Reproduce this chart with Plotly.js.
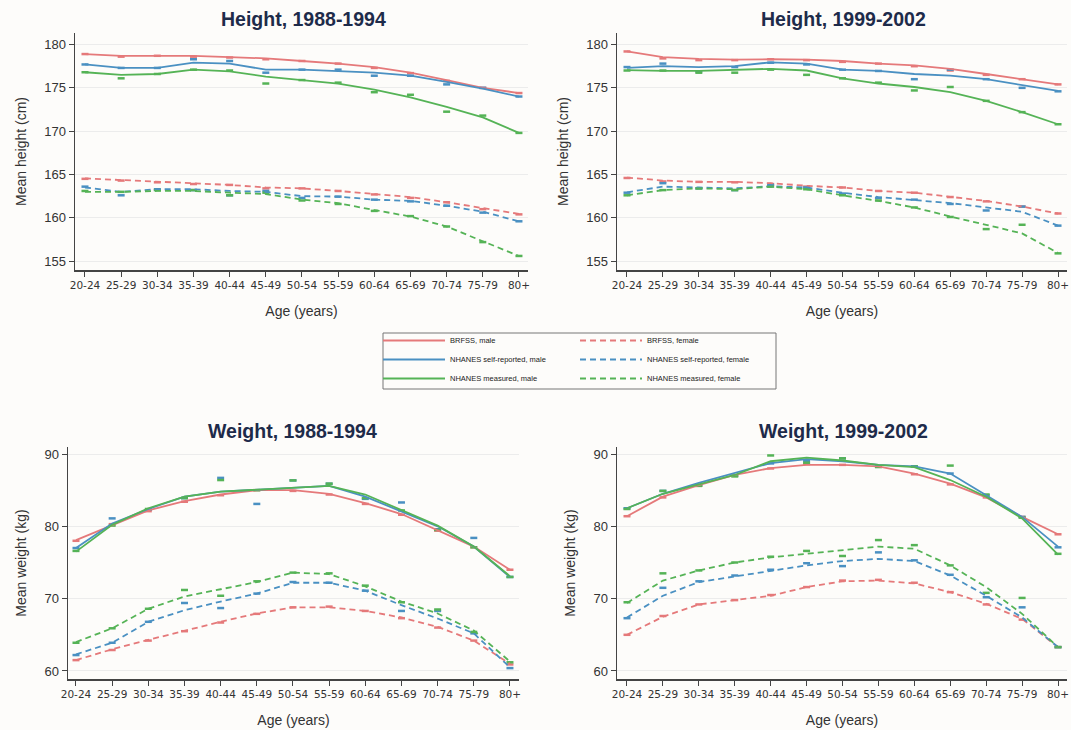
<!DOCTYPE html>
<html>
<head>
<meta charset="utf-8">
<script src="https://cdn.plot.ly/plotly-3.0.1.min.js"></script>
<style>
html,body{margin:0;padding:0;background:#fdfcfa;}
#chart{width:1071px;height:730px;}
</style>
</head>
<body>
<div id="chart"></div>
<script>
// ---------- categories ----------
const ageGroups = ["20-24","25-29","30-34","35-39","40-44","45-49","50-54","55-59","60-64","65-69","70-74","75-79","80+"];

const seriesNames = ["BRFSS, male","NHANES self-reported, male","NHANES measured, male",
                     "BRFSS, female","NHANES self-reported, female","NHANES measured, female"];

// ---------- Height 1988-1994 (smoothed lines) ----------
const h88_brfss_m = [178.9,178.7,178.7,178.7,178.55,178.4,178.1,177.8,177.4,176.75,175.9,175.0,174.4];
const h88_srep_m  = [177.7,177.3,177.3,177.9,177.8,177.1,177.1,176.9,176.75,176.4,175.7,174.9,174.0];
const h88_meas_m  = [176.8,176.5,176.6,177.1,176.9,176.3,175.9,175.5,174.8,173.9,172.8,171.6,169.8];
const h88_brfss_f = [164.55,164.35,164.15,164.0,163.8,163.5,163.4,163.1,162.75,162.4,161.8,161.1,160.45];
const h88_srep_f  = [163.5,163.0,163.3,163.3,163.1,163.0,162.5,162.45,162.1,161.95,161.4,160.7,159.6];
const h88_meas_f  = [163.0,163.0,163.1,163.1,162.9,162.75,162.1,161.7,160.9,160.15,159.0,157.3,155.6];
// Height 1988-1994 (observed points)
const h88_brfss_m_pts = [178.9,178.6,178.7,178.6,178.5,178.3,178.1,177.8,177.3,176.7,175.8,175.0,174.4];
const h88_srep_m_pts  = [177.7,177.3,177.3,178.3,178.1,176.75,177.1,177.1,176.4,176.4,175.4,175.0,174.0];
const h88_meas_m_pts  = [176.8,176.1,176.6,177.1,177.0,175.5,175.9,175.6,174.5,174.2,172.25,171.8,169.8];
const h88_brfss_f_pts = [164.5,164.3,164.1,163.9,163.8,163.4,163.4,163.1,162.7,162.3,161.8,161.0,160.4];
const h88_srep_f_pts  = [163.6,162.6,163.3,163.2,162.6,163.1,162.3,162.45,162.1,161.9,161.4,160.6,159.6];
const h88_meas_f_pts  = [163.1,163.0,163.2,163.2,162.6,162.9,162.0,161.6,160.8,160.2,159.0,157.2,155.6];

// ---------- Height 1999-2002 ----------
const h99_brfss_m = [179.2,178.55,178.35,178.25,178.3,178.25,178.1,177.8,177.6,177.2,176.6,176.0,175.4];
const h99_srep_m  = [177.3,177.5,177.4,177.5,177.95,177.8,177.1,176.95,176.6,176.4,176.0,175.3,174.65];
const h99_meas_m  = [177.05,176.95,176.95,177.05,177.2,177.0,176.1,175.5,175.1,174.5,173.5,172.2,170.8];
const h99_brfss_f = [164.65,164.3,164.15,164.15,164.0,163.7,163.5,163.1,162.9,162.45,161.95,161.3,160.5];
const h99_srep_f  = [162.95,163.6,163.5,163.4,163.65,163.5,162.9,162.4,162.05,161.7,161.2,160.7,159.1];
const h99_meas_f  = [162.6,163.2,163.4,163.3,163.6,163.3,162.6,161.95,161.2,160.15,159.2,158.2,155.95];
const h99_brfss_m_pts = [179.2,178.4,178.2,178.2,178.3,178.2,178.0,177.8,177.5,177.0,176.5,176.0,175.4];
const h99_srep_m_pts  = [177.4,177.8,176.9,177.4,177.9,177.7,177.1,176.95,176.0,177.1,176.0,175.0,174.6];
const h99_meas_m_pts  = [177.0,177.0,176.75,176.75,177.1,176.5,176.1,175.6,174.7,175.1,173.5,172.2,170.8];
const h99_brfss_f_pts = [164.6,164.2,164.15,164.1,163.9,163.6,163.5,163.1,162.9,162.4,161.9,161.3,160.5];
const h99_srep_f_pts  = [162.9,164.0,163.4,163.2,163.8,163.5,162.8,162.3,162.1,161.6,160.85,161.3,159.1];
const h99_meas_f_pts  = [162.6,163.2,163.4,163.2,163.6,163.3,162.6,162.0,161.2,160.1,158.7,159.2,155.9];

// ---------- Weight 1988-1994 ----------
const w88_brfss_m = [78.1,80.2,82.2,83.5,84.4,85.0,85.0,84.5,83.2,81.7,79.4,77.2,74.0];
const w88_srep_m  = [77.0,80.4,82.4,84.1,84.8,85.05,85.3,85.6,84.1,82.1,80.0,77.2,73.0];
const w88_meas_m  = [76.5,80.2,82.5,84.1,84.8,85.1,85.3,85.6,84.4,82.3,80.1,77.2,73.1];
const w88_brfss_f = [61.5,63.0,64.3,65.6,66.8,67.95,68.8,68.8,68.3,67.4,66.1,64.2,61.0];
const w88_srep_f  = [62.3,63.9,66.8,68.4,69.6,70.7,72.2,72.2,71.1,69.1,67.25,65.2,60.5];
const w88_meas_f  = [64.0,65.9,68.6,70.3,71.3,72.3,73.6,73.4,71.7,69.6,67.95,65.6,61.3];
const w88_brfss_m_pts = [78.0,80.3,82.1,83.4,84.3,85.0,84.9,84.4,83.1,81.6,79.4,77.1,74.0];
const w88_srep_m_pts  = [77.0,81.1,82.3,83.9,86.7,83.1,86.35,85.9,83.8,83.3,79.6,78.4,73.0];
const w88_meas_m_pts  = [76.6,80.1,82.4,83.9,86.4,85.0,86.35,85.9,83.9,82.2,79.5,77.1,73.0];
const w88_brfss_f_pts = [61.5,62.9,64.2,65.5,66.7,67.9,68.8,68.9,68.3,67.3,66.0,64.2,60.9];
const w88_srep_f_pts  = [62.2,63.9,66.8,69.4,68.7,70.7,72.3,72.2,71.1,68.3,68.3,65.2,60.4];
const w88_meas_f_pts  = [63.9,65.9,68.6,71.2,70.4,72.4,73.6,73.5,71.8,69.5,68.5,65.4,61.2];

// ---------- Weight 1999-2002 ----------
const w99_brfss_m = [81.4,84.1,85.7,87.1,88.05,88.5,88.5,88.3,87.3,85.9,84.0,81.3,78.9];
const w99_srep_m  = [82.5,84.5,86.0,87.4,88.75,89.3,89.0,88.5,88.3,87.3,84.35,81.3,77.2];
const w99_meas_m  = [82.5,84.5,85.8,87.1,89.0,89.5,89.1,88.5,88.2,86.4,84.1,81.1,76.1];
const w99_brfss_f = [65.0,67.5,69.2,69.8,70.4,71.6,72.4,72.5,72.1,70.9,69.3,67.2,63.3];
const w99_srep_f  = [67.4,70.4,72.3,73.1,73.9,74.6,75.2,75.5,75.2,73.2,70.4,67.4,63.3];
const w99_meas_f  = [69.4,72.5,73.9,75.0,75.7,76.2,76.6,77.2,76.9,74.6,71.6,67.9,63.3];
const w99_brfss_m_pts = [81.4,84.0,85.6,87.0,88.0,88.6,88.5,88.3,87.2,85.8,84.0,81.3,78.9];
const w99_srep_m_pts  = [82.5,84.9,85.7,87.0,88.7,89.0,89.4,88.3,88.3,87.3,84.3,81.3,77.1];
const w99_meas_m_pts  = [82.4,84.9,85.6,86.9,89.8,88.8,89.4,88.2,88.3,88.4,84.4,81.2,76.2];
const w99_brfss_f_pts = [65.0,67.6,69.2,69.8,70.5,71.6,72.5,72.6,72.2,70.9,69.2,67.1,63.3];
const w99_srep_f_pts  = [67.3,71.5,72.4,73.2,74.0,74.9,74.5,76.4,75.3,73.3,70.2,68.8,63.3];
const w99_meas_f_pts  = [69.5,73.5,73.9,75.0,75.8,76.6,75.9,78.1,77.4,74.6,70.8,70.1,63.3];

// ---------- tick values ----------
const heightTicks = [155,160,165,170,175,180];
const weightTicks = [60,70,80,90];

// ---------- panel titles ----------
const panelTitles = ["Height, 1988-1994","Height, 1999-2002","Weight, 1988-1994","Weight, 1999-2002"];
const yTitles = ["Mean height (cm)","Mean height (cm)","Mean weight (kg)","Mean weight (kg)"];
const xTitle = "Age (years)";

// ---------- styling ----------
const RED = "#e5797a", BLUE = "#4a90c2", GREEN = "#55b356";
const seriesColors = [RED, BLUE, GREEN, RED, BLUE, GREEN];
const seriesDash = ["solid","solid","solid","dash","dash","dash"];
const seriesLegend = ["legend","legend","legend","legend2","legend2","legend2"];

const panels = [
  {lines:[h88_brfss_m,h88_srep_m,h88_meas_m,h88_brfss_f,h88_srep_f,h88_meas_f],
   pts:[h88_brfss_m_pts,h88_srep_m_pts,h88_meas_m_pts,h88_brfss_f_pts,h88_srep_f_pts,h88_meas_f_pts]},
  {lines:[h99_brfss_m,h99_srep_m,h99_meas_m,h99_brfss_f,h99_srep_f,h99_meas_f],
   pts:[h99_brfss_m_pts,h99_srep_m_pts,h99_meas_m_pts,h99_brfss_f_pts,h99_srep_f_pts,h99_meas_f_pts]},
  {lines:[w88_brfss_m,w88_srep_m,w88_meas_m,w88_brfss_f,w88_srep_f,w88_meas_f],
   pts:[w88_brfss_m_pts,w88_srep_m_pts,w88_meas_m_pts,w88_brfss_f_pts,w88_srep_f_pts,w88_meas_f_pts]},
  {lines:[w99_brfss_m,w99_srep_m,w99_meas_m,w99_brfss_f,w99_srep_f,w99_meas_f],
   pts:[w99_brfss_m_pts,w99_srep_m_pts,w99_meas_m_pts,w99_brfss_f_pts,w99_srep_f_pts,w99_meas_f_pts]}
];

const W = 1071, H = 730;
// plot areas in pixels: [left, right, top, bottom]
const boxes = [[75,528,33,270],[617,1067,33,270],[68,519,447,679],[617,1067,447,679]];
const xRanges = [[-0.276,12.25],[-0.278,12.25],[-0.221,12.25],[-0.278,12.25]];
const yRanges = [[153.98,181.33],[153.98,181.33],[58.89,90.97],[58.89,90.97]];
const titlePos = [[303,19],[843,19],[292,431],[843,431]];
const xIdx = ageGroups.map((_,i)=>i);

const traces = [];
panels.forEach((p,pi)=>{
  const ax = pi===0 ? "" : String(pi+1);
  p.pts.forEach((vals,si)=>{
    traces.push({
      x: xIdx, y: vals, xaxis:"x"+ax, yaxis:"y"+ax, type:"scatter", mode:"markers",
      marker:{symbol:"line-ew", size:5, color:seriesColors[si], line:{width:2.5, color:seriesColors[si]}},
      showlegend:false, hoverinfo:"skip"
    });
  });
  p.lines.forEach((vals,si)=>{
    traces.push({
      x: xIdx, y: vals, xaxis:"x"+ax, yaxis:"y"+ax, type:"scatter", mode:"lines",
      name: seriesNames[si], legend: seriesLegend[si],
      line:{color:seriesColors[si], width:1.8, dash:seriesDash[si] === "dash" ? "6px,4px" : "solid"},
      showlegend: pi===0
    });
  });
});

const legendCommon = {
  orientation:"v", xanchor:"left", yanchor:"top",
  bgcolor:"rgba(0,0,0,0)", borderwidth:0,
  font:{size:7.5, color:"#222", family:"Liberation Sans, Arial, sans-serif"},
  itemwidth:62, tracegroupgap:0
};

const layout = {
  width: W, height: H,
  margin:{l:0,r:0,t:0,b:0},
  paper_bgcolor:"#fdfcfa", plot_bgcolor:"#fdfcfa",
  font:{family:"Liberation Sans, Arial, sans-serif", color:"#333"},
  showlegend:true,
  legend: Object.assign({}, legendCommon, {x:378/W, y:1-326/H}),
  legend2: Object.assign({}, legendCommon, {x:575/W, y:1-326/H}),
  annotations:[],
  shapes:[{type:"rect", xref:"paper", yref:"paper",
           x0:383/W, x1:776/W, y0:1-389/H, y1:1-333/H,
           line:{color:"#777", width:1}, fillcolor:"rgba(0,0,0,0)", layer:"below"}]
};

boxes.forEach((b,pi)=>{
  const ax = pi===0 ? "" : String(pi+1);
  const isH = pi<2;
  layout["xaxis"+ax] = {
    domain:[b[0]/W, b[1]/W], range:xRanges[pi], anchor:"y"+ax,
    tickmode:"array", tickvals:xIdx, ticktext:ageGroups,
    tickfont:{size:10.5, color:"#333", family:"DejaVu Sans, sans-serif"},
    ticks:"outside", ticklen:5, tickcolor:"#444",
    showline:true, linecolor:"#444", linewidth:1.5, showgrid:false, zeroline:false,
    tickangle:0,
    title:{text:xTitle, font:{size:14, color:"#333"}, standoff:16}
  };
  layout["yaxis"+ax] = {
    domain:[1-b[3]/H, 1-b[2]/H], range:yRanges[pi], anchor:"x"+ax,
    tickmode:"array", tickvals: isH ? heightTicks : weightTicks,
    tickfont:{size:13, color:"#333"}, ticks:"outside", ticklen:5, tickcolor:"#444",
    showline:true, linecolor:"#444", linewidth:1.5,
    showgrid:true, gridcolor:"#ececec", gridwidth:1, zeroline:false,
    title:{text:yTitles[pi], font:{size:14, color:"#333"}, standoff:14}
  };
  layout.annotations.push({
    text: "<b>"+panelTitles[pi]+"</b>", xref:"paper", yref:"paper",
    x: titlePos[pi][0]/W, y: 1-titlePos[pi][1]/H, xanchor:"center", yanchor:"middle",
    showarrow:false, font:{size:19.5, color:"#1e2b4a", family:"Liberation Sans, Arial, sans-serif"}
  });
});

Plotly.newPlot("chart", traces, layout, {staticPlot:true, displayModeBar:false});
</script>
</body>
</html>
